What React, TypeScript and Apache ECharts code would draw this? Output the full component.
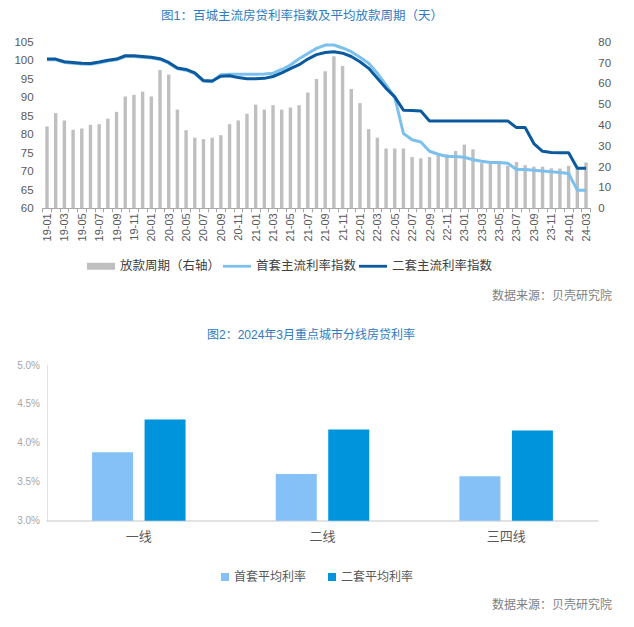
import React, { useEffect, useRef } from "react";
import * as echarts from "echarts";

const months = [
  "19-01","19-02","19-03","19-04","19-05","19-06","19-07","19-08","19-09","19-10","19-11","19-12",
  "20-01","20-02","20-03","20-04","20-05","20-06","20-07","20-08","20-09","20-10","20-11","20-12",
  "21-01","21-02","21-03","21-04","21-05","21-06","21-07","21-08","21-09","21-10","21-11","21-12",
  "22-01","22-02","22-03","22-04","22-05","22-06","22-07","22-08","22-09","22-10","22-11","22-12",
  "23-01","23-02","23-03","23-04","23-05","23-06","23-07","23-08","23-09","23-10","23-11","23-12",
  "24-01","24-02","24-03",
];

const loanDays = [
  39.3, 45.7, 42.2, 37.7, 38.3, 40.1, 40.4, 43.0, 46.3, 53.7, 54.5, 56.0,
  53.7, 66.4, 64.2, 47.4, 37.5, 33.9, 33.2, 33.9, 35.1, 40.4, 42.2, 45.4,
  49.8, 47.4, 49.5, 47.4, 48.4, 49.5, 55.6, 62.1, 65.8, 73.0, 68.3, 57.3,
  50.5, 38.0, 33.9, 28.7, 28.7, 28.7, 24.6, 24.0, 24.6, 25.5, 25.9, 27.5,
  30.6, 28.3, 21.7, 21.4, 21.4, 20.5, 22.2, 20.7, 20.0, 20.0, 19.2, 19.1,
  20.4, 19.8, 22.0,
];

const firstHomeIndex = [
  100.1, 100.1, 99.4, 99.2, 99.0, 98.9, 99.3, 99.8, 100.1, 101.0, 101.0, 100.8,
  100.6, 100.2, 99.2, 97.7, 97.3, 96.4, 94.3, 94.2, 96.1, 96.2, 96.2, 96.2,
  96.2, 96.3, 96.5, 97.5, 98.7, 100.4, 101.8, 103.2, 104.1, 104.1, 103.3, 102.3,
  100.8, 99.2, 96.5, 93.3, 90.0, 80.2, 78.5, 77.9, 75.4, 74.6, 74.0, 74.0,
  73.8, 73.1, 72.7, 72.4, 72.4, 72.2, 70.5, 70.5, 70.3, 70.1, 69.9, 69.7,
  69.4, 64.9, 64.9,
];

const secondHomeIndex = [
  100.3, 100.3, 99.6, 99.4, 99.2, 99.1, 99.5, 100.0, 100.3, 101.2, 101.2, 101.0,
  100.8, 100.4, 99.4, 97.9, 97.5, 96.6, 94.5, 94.4, 95.7, 95.8, 95.3, 95.0,
  95.0, 95.1, 95.6, 96.6, 97.7, 98.8, 100.3, 101.5, 102.1, 102.3, 101.9, 101.0,
  99.6, 97.8, 95.1, 92.4, 90.1, 86.5, 86.4, 86.3, 83.6, 83.6, 83.6, 83.6,
  83.6, 83.6, 83.6, 83.6, 83.6, 83.6, 81.8, 81.8, 77.5, 75.4, 75.1, 75.0,
  75.0, 70.8, 70.8,
];

const cityTiers = ["一线", "二线", "三四线"];
const firstAvgRate = [3.88, 3.6, 3.57];
const secondAvgRate = [4.3, 4.17, 4.16];

const FONT = "'Liberation Sans', Arial, 'Noto Sans CJK SC', sans-serif";
const LINE_ICON = "path://M0,0H30V3H0Z";

export default function App() {
  const ref = useRef<HTMLDivElement>(null);

  useEffect(() => {
    if (!ref.current) return;
    const chart = echarts.init(ref.current, undefined, { renderer: "svg" });
    const option: any = {
      animation: false,
      backgroundColor: "#ffffff",
      textStyle: { fontFamily: FONT },
      graphic: [
        {
          type: "text",
          x: 302,
          y: 16,
          style: {
            text: "图1：百城主流房贷利率指数及平均放款周期（天）",
            align: "center",
            verticalAlign: "middle",
            fontSize: 12.5,
            fontFamily: FONT,
            fill: "#2F7BC0",
          },
        },
        {
          type: "text",
          x: 612,
          y: 296,
          style: {
            text: "数据来源：贝壳研究院",
            align: "right",
            verticalAlign: "middle",
            fontSize: 12,
            fontFamily: FONT,
            fill: "#7f7f7f",
          },
        },
        {
          type: "text",
          x: 311,
          y: 335,
          style: {
            text: "图2：2024年3月重点城市分线房贷利率",
            align: "center",
            verticalAlign: "middle",
            fontSize: 12,
            fontFamily: FONT,
            fill: "#2F7BC0",
          },
        },
        {
          type: "text",
          x: 612,
          y: 605,
          style: {
            text: "数据来源：贝壳研究院",
            align: "right",
            verticalAlign: "middle",
            fontSize: 12,
            fontFamily: FONT,
            fill: "#7f7f7f",
          },
        },
      ],
      legend: [
        {
          left: 82,
          top: 255,
          itemWidth: 28,
          itemHeight: 7,
          itemGap: 3,
          textStyle: { fontSize: 12.5, color: "#404040", fontFamily: FONT },
          data: [
            { name: "放款周期（右轴）", icon: "rect" },
            { name: "首套主流利率指数", icon: LINE_ICON, itemStyle: { color: "#7CC0EE", borderWidth: 0 } },
            { name: "二套主流利率指数", icon: LINE_ICON, itemStyle: { color: "#0C5A9E", borderWidth: 0 } },
          ],
        },
        {
          left: 216,
          top: 566,
          itemWidth: 8,
          itemHeight: 8,
          itemGap: 22,
          icon: "rect",
          textStyle: { fontSize: 12, color: "#595959", fontFamily: FONT },
          data: ["首套平均利率", "二套平均利率"],
        },
      ],
      grid: [
        { left: 42.65, width: 547.7, top: 41.7, height: 166.6, containLabel: false },
        { left: 47, right: 36, top: 365, height: 155.7, containLabel: false },
      ],
      xAxis: [
        {
          type: "category",
          gridIndex: 0,
          data: months,
          boundaryGap: true,
          axisLine: { show: true, lineStyle: { color: "#a6a6a6", width: 1 } },
          axisTick: { show: true, interval: 0, length: 4, lineStyle: { color: "#a6a6a6" } },
          axisLabel: {
            interval: 1,
            rotate: 90,
            fontSize: 11,
            color: "#595959",
            margin: 5,
            fontFamily: FONT,
          },
        },
        {
          type: "category",
          gridIndex: 1,
          data: cityTiers,
          axisLine: { show: true, lineStyle: { color: "#d9d9d9", width: 1.5 } },
          axisTick: { show: false },
          axisLabel: { fontSize: 13, color: "#595959", margin: 9, fontFamily: FONT },
        },
      ],
      yAxis: [
        {
          type: "value",
          gridIndex: 0,
          min: 60,
          max: 105,
          interval: 5,
          splitLine: { show: false },
          axisLine: { show: false },
          axisTick: { show: false },
          axisLabel: { fontSize: 11.5, color: "#595959", margin: 9, fontFamily: FONT },
        },
        {
          type: "value",
          gridIndex: 0,
          position: "right",
          min: 0,
          max: 80,
          interval: 10,
          splitLine: { show: false },
          axisLine: { show: false },
          axisTick: { show: false },
          axisLabel: { fontSize: 11.5, color: "#595959", margin: 8, fontFamily: FONT },
        },
        {
          type: "value",
          gridIndex: 1,
          min: 3,
          max: 5,
          interval: 0.5,
          splitLine: { show: false },
          axisLine: { show: true, lineStyle: { color: "#e3e3e3", width: 1 } },
          axisTick: { show: false },
          axisLabel: {
            fontSize: 10,
            color: "#a6a6a6",
            margin: 7,
            fontFamily: FONT,
            formatter: (v: number) => v.toFixed(1) + "%",
          },
        },
      ],
      series: [
        {
          name: "放款周期（右轴）",
          type: "bar",
          xAxisIndex: 0,
          yAxisIndex: 1,
          data: loanDays,
          barWidth: 3.4,
          itemStyle: { color: "#BFBFBF" },
        },
        {
          name: "首套主流利率指数",
          type: "line",
          xAxisIndex: 0,
          yAxisIndex: 0,
          data: firstHomeIndex,
          symbol: "none",
          lineStyle: { color: "#7CC0EE", width: 3 },
          itemStyle: { color: "#7CC0EE" },
        },
        {
          name: "二套主流利率指数",
          type: "line",
          xAxisIndex: 0,
          yAxisIndex: 0,
          data: secondHomeIndex,
          symbol: "none",
          lineStyle: { color: "#0C5A9E", width: 3 },
          itemStyle: { color: "#0C5A9E" },
        },
        {
          name: "首套平均利率",
          type: "bar",
          xAxisIndex: 1,
          yAxisIndex: 2,
          data: firstAvgRate,
          barWidth: 41,
          barGap: "28%",
          itemStyle: { color: "#85C1F7" },
        },
        {
          name: "二套平均利率",
          type: "bar",
          xAxisIndex: 1,
          yAxisIndex: 2,
          data: secondAvgRate,
          barWidth: 41,
          barGap: "28%",
          itemStyle: { color: "#0094DC" },
        },
      ],
    };
    chart.setOption(option);
    return () => chart.dispose();
  }, []);

  return (
    <div
      ref={ref}
      style={{ position: "fixed", left: 0, top: 0, width: 634, height: 627, background: "#fff" }}
    />
  );
}
